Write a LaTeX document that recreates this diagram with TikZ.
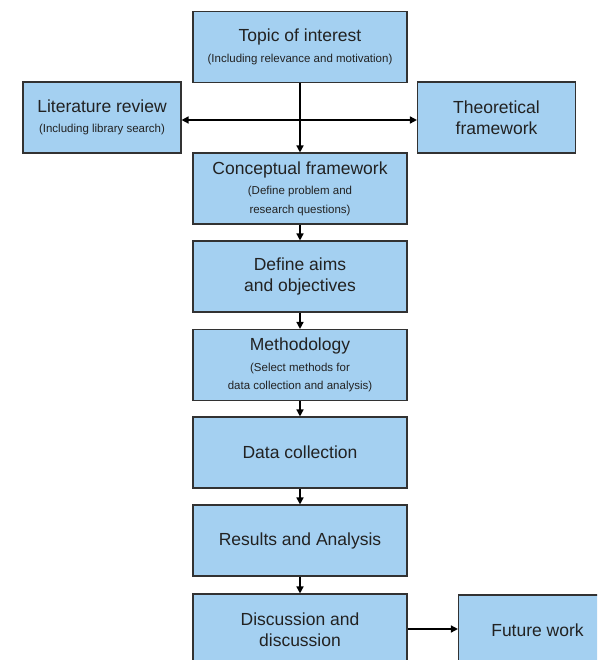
\documentclass[tikz,border=0pt]{standalone}
\usepackage{fontspec}
\setmainfont{Liberation Sans}
\usetikzlibrary{arrows.meta}
\definecolor{boxfill}{RGB}{164,208,241}
\definecolor{boxline}{RGB}{50,50,50}
\definecolor{txt}{RGB}{34,34,34}
\newcommand{\subfont}{\fontsize{11.5}{15}\selectfont}
\newcommand{\subline}{\\[-1pt]\subfont}
\begin{document}
\begin{tikzpicture}[x=1pt,y=-1pt,
  box/.style={draw=boxline,line width=1.1pt,fill=boxfill,minimum width=214pt,minimum height=71pt,
    align=center,text=txt,inner sep=0pt,font=\fontsize{17.5}{21.5}\selectfont},
  sidebox/.style={box,minimum width=158pt},
  arr/.style={line width=1.5pt,-{Triangle[length=7pt,width=7pt]}}]
\useasboundingbox (0,0) rectangle (597,660);
\clip (0,0) rectangle (597,660);
\node[box] (topic) at (300,47) {Topic of interest\subline (Including relevance and motivation)};
\node[sidebox] (lit) at (102,117.5) {Literature review\subline (Including library search)};
\node[sidebox] (theo) at (496.5,117.5) {Theoretical\\framework};
\node[box] (concept) at (300,188.5) {Conceptual framework\subline (Define problem and\\[-3pt]\subfont research questions)};
\node[box] (aims) at (300,276.5) {Define aims\\and objectives};
\node[box] (method) at (300,365) {Methodology\subline (Select methods for\\[-3pt]\subfont data collection and analysis)};
\node[box] (data) at (300,452.5) {Data collection};
\node[box] (results) at (300,540.5) {Results and Analysis};
\node[box] (disc) at (300,629.5) {Discussion and\\discussion};
\node[sidebox] (future) at (537.5,630.5) {Future work};
\coordinate (hub) at (300,120);
\draw[arr] (topic.south) -- (concept.north);
\draw[arr] (hub) -- (hub -| lit.east);
\draw[arr] (hub) -- (hub -| theo.west);
\draw[arr] (concept) -- (aims);
\draw[arr] (aims) -- (method);
\draw[arr] (method) -- (data);
\draw[arr] (data) -- (results);
\draw[arr] (results) -- (disc);
\draw[arr] (disc.east |- 0,629) -- (future.west |- 0,629);
\end{tikzpicture}
\end{document}
